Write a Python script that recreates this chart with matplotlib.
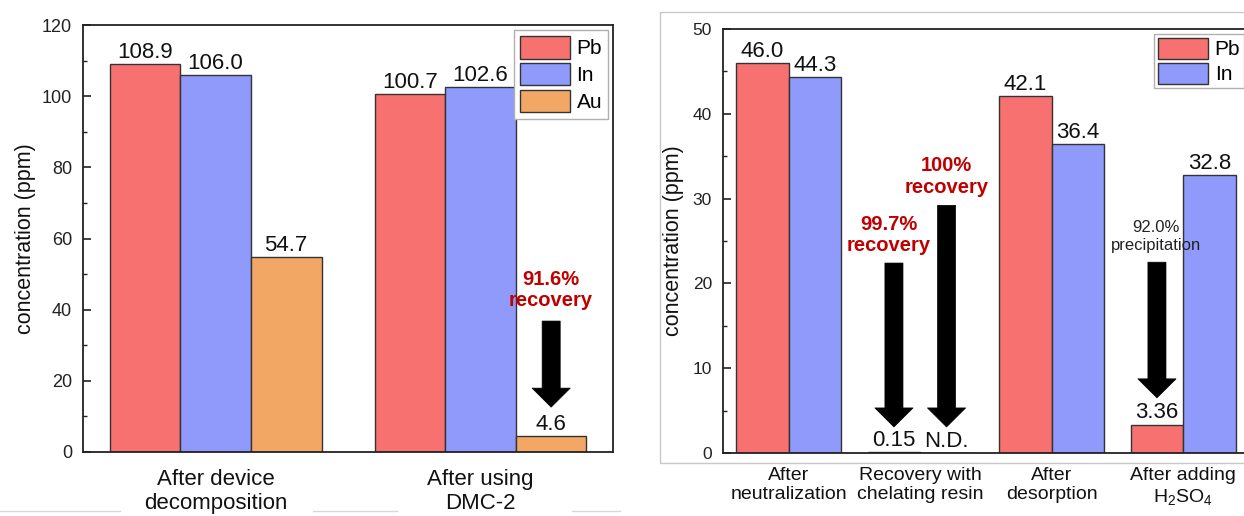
import matplotlib
matplotlib.use("Agg")
import matplotlib.pyplot as plt
import numpy as np
from matplotlib.patches import Rectangle
from matplotlib.lines import Line2D

plt.rcParams['font.family'] = ['Liberation Sans', 'DejaVu Sans']
plt.rcParams['mathtext.fontset'] = 'custom'
plt.rcParams['mathtext.rm'] = 'Liberation Sans'
plt.rcParams['mathtext.it'] = 'Liberation Sans:italic'
plt.rcParams['mathtext.bf'] = 'Liberation Sans:bold'

# ---------------- data ----------------
left_categories = ["After device\ndecomposition", "After using\nDMC-2"]
left_pb = [108.9, 100.7]
left_in = [106.0, 102.6]
left_au = [54.7, 4.6]
left_pb_labels = ["108.9", "100.7"]
left_in_labels = ["106.0", "102.6"]
left_au_labels = ["54.7", "4.6"]

right_categories = ["After\nneutralization", "Recovery with\nchelating resin",
                    "After\ndesorption", "After adding\nH$_2$SO$_4$"]
right_pb = [46.0, 0.15, 42.1, 3.36]
right_in = [44.3, 0.0, 36.4, 32.8]
right_pb_labels = ["46.0", "0.15", "42.1", "3.36"]
right_in_labels = ["44.3", "N.D.", "36.4", "32.8"]

left_yticks = [0, 20, 40, 60, 80, 100, 120]
right_yticks = [0, 10, 20, 30, 40, 50]

# ---------------- style ----------------
PB_COLOR = '#F87171'
IN_COLOR = '#8F9AFB'
AU_COLOR = '#F2A765'
EDGE = '#333333'
RED = '#C00000'

W, H = 1244, 516
fig = plt.figure(figsize=(W / 100, H / 100), dpi=100)


def px_rect(x0, y0, x1, y1):
    return [x0 / W, 1 - y1 / H, (x1 - x0) / W, (y1 - y0) / H]


def style_axes(ax, yticks, minor_step, tick_fs):
    for s in ax.spines.values():
        s.set_linewidth(1.3)
        s.set_color('#222222')
    ax.set_yticks(yticks)
    ax.set_yticks(np.arange(yticks[0] + minor_step, yticks[-1], minor_step * 2), minor=True)
    ax.tick_params(axis='y', which='major', direction='in', length=6, width=1.2,
                   pad=8, labelsize=tick_fs, colors='#222222')
    ax.tick_params(axis='y', which='minor', direction='in', length=3, width=1.0, colors='#222222')
    ax.tick_params(axis='x', which='both', length=0)


def arrow(ax, x, y_top, y_tip):
    ax.annotate('', xy=(x, y_tip), xytext=(x, y_top),
                arrowprops=dict(arrowstyle='simple,head_length=1.37,head_width=2.75,tail_width=1.3',
                                mutation_scale=10, fc='black', ec='black', lw=0.5,
                                shrinkA=0, shrinkB=0))


def value_labels(ax, xs, vals, labels, fs=16):
    for x, v, t in zip(xs, vals, labels):
        ax.annotate(t, (x, v), xytext=(0, 0.8), textcoords='offset points',
                    ha='center', va='bottom', fontsize=fs, color='#111111')


def make_legend(ax, hh, ls, bp):
    leg = ax.legend(loc='upper right', fontsize=15, handlelength=2.4, handleheight=hh,
                    labelspacing=ls, handletextpad=0.3, borderpad=bp, borderaxespad=0.22,
                    fancybox=False, framealpha=1, edgecolor='#b0b0b0')
    leg.get_frame().set_linewidth(1.0)
    return leg


# ---------------- left panel ----------------
axL = fig.add_axes(px_rect(83, 25, 613, 452))
xl = np.arange(len(left_categories))
bw = 0.8 / 3
axL.bar(xl - bw, left_pb, bw, color=PB_COLOR, edgecolor=EDGE, linewidth=1, label='Pb')
axL.bar(xl, left_in, bw, color=IN_COLOR, edgecolor=EDGE, linewidth=1, label='In')
axL.bar(xl + bw, left_au, bw, color=AU_COLOR, edgecolor=EDGE, linewidth=1, label='Au')
value_labels(axL, xl - bw, left_pb, left_pb_labels)
value_labels(axL, xl, left_in, left_in_labels)
value_labels(axL, xl + bw, left_au, left_au_labels)
axL.set_xlim(-0.5, 1.5)
axL.set_ylim(0, 120)
style_axes(axL, left_yticks, 10, 13)
axL.set_xticks(xl)
axL.set_xticklabels(left_categories, fontsize=16, color='#111111')
axL.tick_params(axis='x', pad=12)
axL.set_ylabel('concentration (ppm)', fontsize=15.5, color='#111111')
axL.yaxis.set_label_coords(-0.088, 0.5)
make_legend(axL, 1.3, 0.2, 0.3)

axL.text(1 + bw, 45.5, '91.6%\nrecovery', ha='center', va='center', fontsize=14.5,
         fontweight='bold', color=RED, linespacing=1.15)
arrow(axL, 1 + bw, 36.8, 12.6)

# ---------------- right panel ----------------
axR = fig.add_axes(px_rect(723, 29, 1249, 453))
xr = np.arange(len(right_categories))
rw = 0.4
axR.bar(xr - rw / 2, right_pb, rw, color=PB_COLOR, edgecolor=EDGE, linewidth=1, label='Pb')
axR.bar(xr + rw / 2, right_in, rw, color=IN_COLOR, edgecolor=EDGE, linewidth=1, label='In')
value_labels(axR, xr - rw / 2, right_pb, right_pb_labels)
value_labels(axR, xr + rw / 2, right_in, right_in_labels)
axR.set_xlim(-0.5, 3.5)
axR.set_ylim(0, 50)
style_axes(axR, right_yticks, 5, 12.5)
axR.set_xticks(xr)
axR.set_xticklabels(right_categories, fontsize=14, color='#111111')
axR.tick_params(axis='x', pad=10)
axR.set_ylabel('concentration (ppm)', fontsize=15.5, color='#111111')
axR.yaxis.set_label_coords(-0.074, 0.5)
make_legend(axR, 1.2, 0.15, 0.2)

axR.text(0.76, 25.7, '99.7%\nrecovery', ha='center', va='center', fontsize=14.5,
         fontweight='bold', color=RED, linespacing=1.15)
axR.text(1.2, 32.6, '100%\nrecovery', ha='center', va='center', fontsize=14.5,
         fontweight='bold', color=RED, linespacing=1.15)
axR.text(2.79, 25.5, '92.0%\nprecipitation', ha='center', va='center', fontsize=12,
         color='#222222', linespacing=1.25)
arrow(axR, 0.8, 22.4, 3.07)
arrow(axR, 1.2, 29.2, 3.07)
arrow(axR, 2.8, 22.5, 6.5)

# ---------------- background decorations ----------------
fig.patches.append(Rectangle((660 / W, 1 - 463 / H), (1260 - 660) / W, (463 - 12) / H,
                             transform=fig.transFigure, fill=False, edgecolor='#c8c8c8',
                             linewidth=1.0, zorder=0))
for x0, x1 in [(0, 120), (313, 397), (572, 620)]:
    fig.lines.append(Line2D([x0 / W, x1 / W], [1 - 511 / H, 1 - 511 / H],
                            transform=fig.transFigure, color='#d8d8d8', linewidth=1.0, zorder=0))

fig.savefig('out.png', dpi=100)
